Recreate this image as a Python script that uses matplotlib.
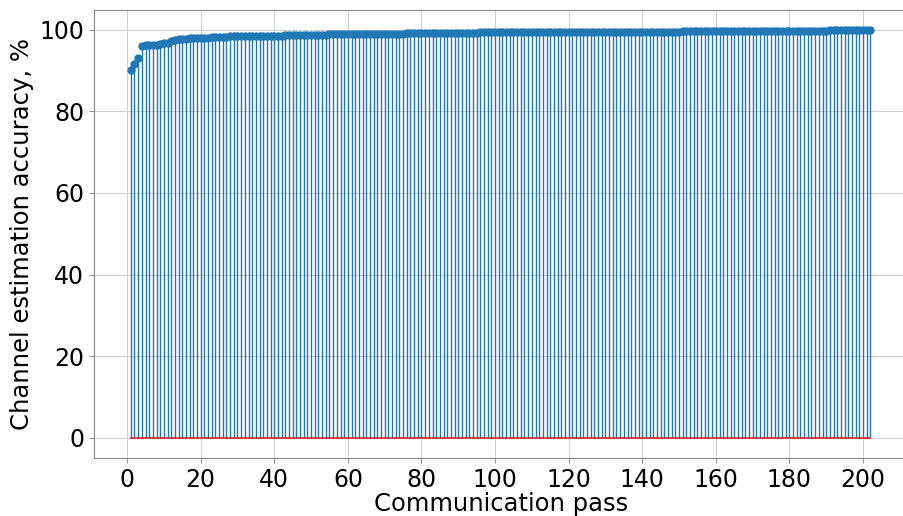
import numpy as np
import matplotlib
matplotlib.use("Agg")
import matplotlib.pyplot as plt

# accuracy per communication pass (passes 1..202)
accuracy = [
    90.2, 91.6, 93.2, 96.1, 96.2, 96.3, 96.3, 96.4, 96.5, 96.7,
    96.9, 97.2, 97.5, 97.7, 97.8, 97.8, 97.9, 97.9, 98.0, 98.0,
    98.1, 98.1, 98.2, 98.2, 98.3, 98.3, 98.3, 98.4, 98.4, 98.4,
    98.4, 98.5, 98.5, 98.5, 98.5, 98.5, 98.6, 98.6, 98.6, 98.6,
    98.6, 98.6, 98.7, 98.7, 98.7, 98.7, 98.7, 98.7, 98.8, 98.8,
    98.8, 98.8, 98.8, 98.8, 98.9, 98.9, 98.9, 98.9, 98.9, 99.0,
    99.0, 99.0, 99.0, 99.0, 99.0, 99.0, 99.0, 99.1, 99.1, 99.1,
    99.1, 99.1, 99.1, 99.1, 99.1, 99.2, 99.2, 99.2, 99.2, 99.2,
    99.2, 99.2, 99.2, 99.2, 99.3, 99.3, 99.3, 99.3, 99.3, 99.3,
    99.3, 99.3, 99.3, 99.3, 99.3, 99.4, 99.4, 99.4, 99.4, 99.4,
    99.4, 99.4, 99.4, 99.4, 99.4, 99.4, 99.4, 99.4, 99.4, 99.5,
    99.5, 99.5, 99.5, 99.5, 99.5, 99.5, 99.5, 99.5, 99.5, 99.5,
    99.5, 99.5, 99.5, 99.5, 99.5, 99.5, 99.5, 99.5, 99.5, 99.5,
    99.5, 99.5, 99.5, 99.5, 99.6, 99.6, 99.6, 99.6, 99.6, 99.6,
    99.6, 99.6, 99.6, 99.6, 99.6, 99.6, 99.6, 99.6, 99.6, 99.6,
    99.7, 99.7, 99.7, 99.7, 99.7, 99.7, 99.7, 99.7, 99.7, 99.7,
    99.7, 99.7, 99.7, 99.8, 99.8, 99.8, 99.8, 99.8, 99.8, 99.8,
    99.8, 99.8, 99.8, 99.8, 99.8, 99.8, 99.8, 99.8, 99.8, 99.8,
    99.8, 99.8, 99.8, 99.8, 99.8, 99.8, 99.8, 99.8, 99.8, 99.8,
    99.9, 99.9, 99.9, 99.9, 99.9, 99.9, 99.9, 99.9, 99.9, 99.9,
    100.0, 100.0,
]
passes = np.arange(1, len(accuracy) + 1)

fig = plt.figure(figsize=(9.04, 5.16), dpi=100)
ax = fig.add_axes([94 / 904, 1 - 458 / 516, 815 / 904, 448.5 / 516])

markerline, stemlines, baseline = ax.stem(passes, accuracy)
plt.setp(markerline, markersize=5)
plt.setp(stemlines, linewidth=1.0)
plt.setp(baseline, linewidth=1.2)

ax.set_xlim(-9, 212.5)
ax.set_xticks(np.arange(0, 201, 20))
ax.set_yticks(np.arange(0, 101, 20))
ax.tick_params(labelsize=17, color="#999999")
ax.set_xlabel("Communication pass", fontsize=17.5, labelpad=0)
ax.set_ylabel("Channel estimation accuracy, %", fontsize=17.5)
ax.grid(True, color="#d0d0d0")
for side in ax.spines.values():
    side.set_color("#888888")
ax.spines["right"].set_visible(False)

fig.savefig("out.png", dpi=100)
